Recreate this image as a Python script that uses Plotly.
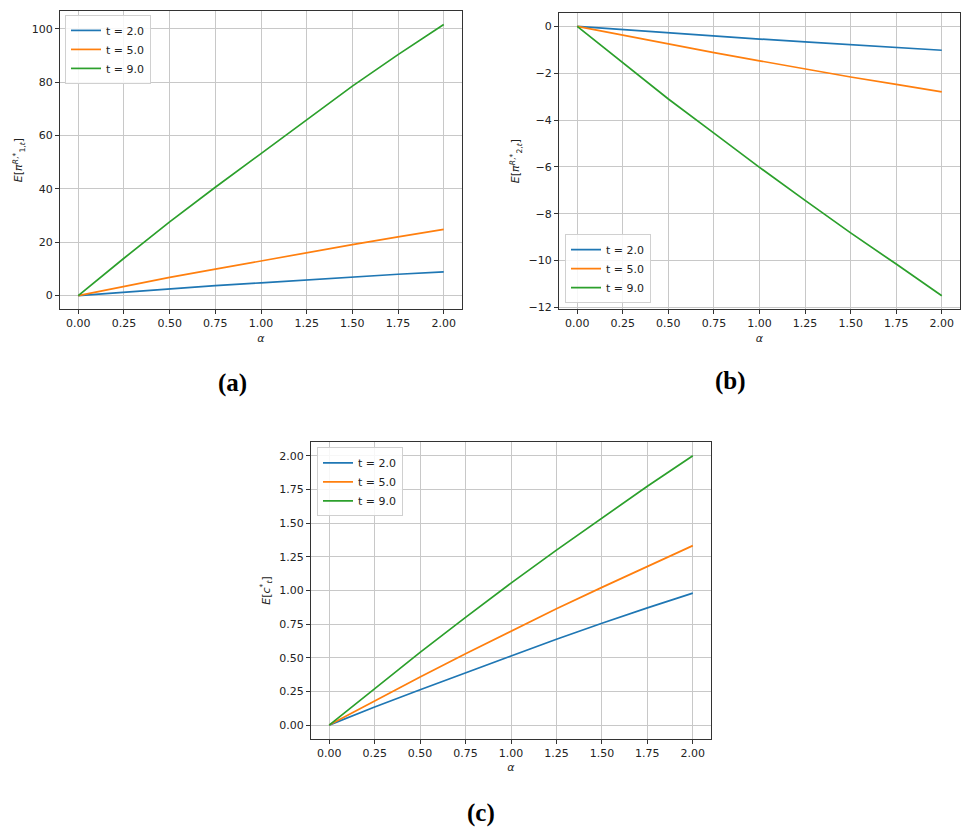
import plotly.graph_objects as go

alpha = [0.0, 0.25, 0.5, 0.75, 1.0, 1.25, 1.5, 1.75, 2.0]
series_names = ["t = 2.0", "t = 5.0", "t = 9.0"]
colors = ["#1f77b4", "#ff7f0e", "#2ca02c"]

# panel (a): E[pi_1]
pi1_t2 = [0.0, 1.3, 2.6, 3.7, 4.8, 5.9, 7.0, 8.0, 8.9]
pi1_t5 = [0.0, 3.4, 6.8, 9.9, 13.0, 16.0, 19.1, 22.0, 24.8]
pi1_t9 = [0.0, 14.0, 27.6, 40.6, 53.2, 65.8, 78.5, 90.3, 101.6]

# panel (b): E[pi_2]
pi2_t2 = [0.0, -0.14, -0.27, -0.41, -0.54, -0.66, -0.79, -0.91, -1.02]
pi2_t5 = [0.0, -0.38, -0.75, -1.12, -1.47, -1.82, -2.16, -2.48, -2.80]
pi2_t9 = [0.0, -1.57, -3.10, -4.56, -6.02, -7.43, -8.82, -10.15, -11.50]

# panel (c): E[c]
c_t2 = [0.0, 0.135, 0.263, 0.39, 0.515, 0.638, 0.756, 0.871, 0.98]
c_t5 = [0.0, 0.18, 0.358, 0.53, 0.70, 0.864, 1.023, 1.178, 1.333]
c_t9 = [0.0, 0.27, 0.54, 0.80, 1.055, 1.30, 1.54, 1.774, 2.0]

panels = [
    ("x", "y", "legend", [pi1_t2, pi1_t5, pi1_t9]),
    ("x2", "y2", "legend2", [pi2_t2, pi2_t5, pi2_t9]),
    ("x3", "y3", "legend3", [c_t2, c_t5, c_t9]),
]

W, H = 970, 839
def px_x(a, b):
    return [a / W, b / W]
def px_y(top, bottom):
    return [1 - bottom / H, 1 - top / H]

fig = go.Figure()
for xa, ya, lg, data in panels:
    for name, col, vals in zip(series_names, colors, data):
        fig.add_trace(go.Scatter(x=alpha, y=vals, mode="lines", name=name,
                                 line=dict(color=col, width=1.7),
                                 xaxis=xa, yaxis=ya, legend=lg))

def rng(vals):
    lo = min(min(v) for v in vals); hi = max(max(v) for v in vals)
    m = 0.05 * (hi - lo)
    return [lo - m, hi + m]

tickfont = dict(family="DejaVu Sans", size=11, color="#222")
common = dict(showgrid=True, gridcolor="#c8c8c8", gridwidth=1, showline=True,
              linecolor="#333", linewidth=1, mirror=True, ticks="outside",
              ticklen=4, tickcolor="#333", tickfont=tickfont, zeroline=False)

xcommon = dict(common, range=[-0.1, 2.1], tick0=0, dtick=0.25, tickformat=".2f",
               title=dict(text="<i>α</i>", font=dict(family="DejaVu Sans", size=11, color="#222"), standoff=4))

ytitle_font = dict(family="DejaVu Sans", size=11, color="#222")
fig.update_layout(
    width=W, height=H, margin=dict(l=0, r=0, t=0, b=0),
    plot_bgcolor="white", paper_bgcolor="white",
    xaxis=dict(xcommon, domain=px_x(60, 462), anchor="y"),
    yaxis=dict(common, domain=px_y(11, 311), anchor="x", range=rng([pi1_t2, pi1_t5, pi1_t9]),
               dtick=20, tick0=0,
               title=dict(text="<i>E</i>[<i>π</i><sup><i>R</i>,*</sup><sub>1,<i>t</i></sub>]", font=ytitle_font, standoff=6)),
    xaxis2=dict(xcommon, domain=px_x(559, 960), anchor="y2"),
    yaxis2=dict(common, domain=px_y(13, 311), anchor="x2", range=rng([pi2_t2, pi2_t5, pi2_t9]),
                dtick=2, tick0=0,
                title=dict(text="<i>E</i>[<i>π</i><sup><i>R</i>,*</sup><sub>2,<i>t</i></sub>]", font=ytitle_font, standoff=6)),
    xaxis3=dict(xcommon, domain=px_x(311, 711), anchor="y3"),
    yaxis3=dict(common, domain=px_y(445, 743), anchor="x3", range=rng([c_t2, c_t5, c_t9]),
                dtick=0.25, tick0=0, tickformat=".2f",
                title=dict(text="<i>E</i>[<i>c</i><sup>*</sup><sub><i>t</i></sub>]", font=ytitle_font, standoff=6)),
)

legfont = dict(family="DejaVu Sans", size=11, color="#222")
legbase = dict(font=legfont, bgcolor="rgba(255,255,255,0.85)", bordercolor="#d0d0d0",
               borderwidth=1, tracegroupgap=0, itemwidth=30)
fig.update_layout(
    legend=dict(legbase, x=65 / W, y=1 - 15 / H, xanchor="left", yanchor="top"),
    legend2=dict(legbase, x=565 / W, y=1 - 305 / H, xanchor="left", yanchor="bottom"),
    legend3=dict(legbase, x=317 / W, y=1 - 450 / H, xanchor="left", yanchor="top"),
)

labfont = dict(family="Liberation Serif", size=25, color="#000")
for txt, xp, yp in [("<b>(a)</b>", 232, 385), ("<b>(b)</b>", 730, 383), ("<b>(c)</b>", 481, 818)]:
    fig.add_annotation(text=txt, x=xp / W, y=1 - yp / H, xref="paper", yref="paper",
                       showarrow=False, font=labfont, xanchor="center", yanchor="middle")

fig.write_html("out.html")
